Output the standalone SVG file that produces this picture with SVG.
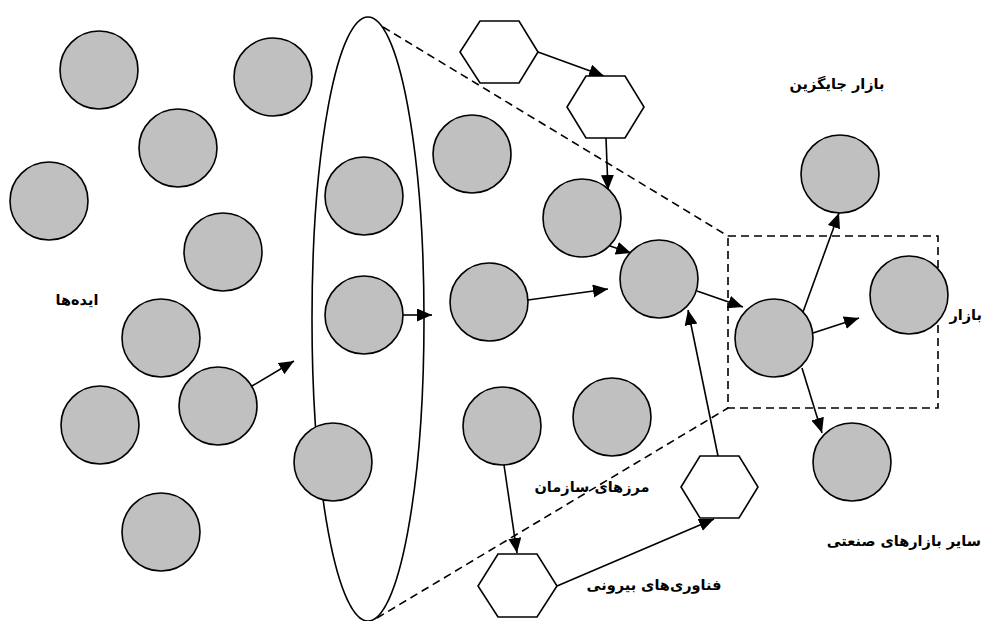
<svg xmlns="http://www.w3.org/2000/svg" width="983" height="621" viewBox="0 0 983 621">
<style>
.c{fill:#c0c0c0;stroke:#000;stroke-width:1.6}
.h{fill:#fff;stroke:#000;stroke-width:1.6}
.e{fill:none;stroke:#000;stroke-width:1.6}
.d{fill:none;stroke:#000;stroke-width:1.6;stroke-dasharray:8 5}
.a{stroke:#000;stroke-width:1.6;fill:none;marker-end:url(#ah)}
.t{font-family:"DejaVu Sans","Noto Sans",sans-serif;font-weight:bold;font-size:14.5px;fill:#000}
</style>
<defs>
<marker id="ah" markerUnits="userSpaceOnUse" markerWidth="16" markerHeight="14" refX="15" refY="6.5" orient="auto">
<path d="M0,0 L15,6.5 L0,13 z" fill="#000"/>
</marker>
</defs>
<rect width="983" height="621" fill="#fff"/>
<g id="boundary">
<ellipse class="e" cx="368" cy="319" rx="56" ry="302"/>
<line class="d" x1="383" y1="27" x2="728" y2="236"/>
<line class="d" x1="377" y1="618" x2="728" y2="408"/>
<rect class="d" x="728" y="236" width="210" height="172"/>
</g>
<g id="connectors">
<line class="a" x1="252" y1="386" x2="294" y2="361"/>
<line class="a" x1="403" y1="315" x2="432" y2="315"/>
<line class="a" x1="528" y1="300" x2="608" y2="289"/>
<line class="a" x1="538" y1="52" x2="604" y2="76"/>
<line class="a" x1="606" y1="138" x2="608" y2="190"/>
<line class="a" x1="610" y1="246" x2="631" y2="253"/>
<line class="a" x1="697" y1="291" x2="743" y2="307"/>
<line class="a" x1="718" y1="456" x2="688" y2="310"/>
<line class="a" x1="504" y1="465" x2="517" y2="553"/>
<line class="a" x1="557" y1="586" x2="714" y2="519"/>
<line class="a" x1="803" y1="312" x2="839" y2="213"/>
<line class="a" x1="813" y1="333" x2="859" y2="318"/>
<line class="a" x1="802" y1="368" x2="822" y2="433"/>
</g>
<g id="n1"><circle class="c" cx="99" cy="70" r="39"/></g>
<g id="n2"><circle class="c" cx="273" cy="77" r="39"/></g>
<g id="n3"><circle class="c" cx="178" cy="148" r="39"/></g>
<g id="n4"><circle class="c" cx="49" cy="201" r="39"/></g>
<g id="n5"><circle class="c" cx="223" cy="252" r="39"/></g>
<g id="n6"><circle class="c" cx="161" cy="338" r="39"/></g>
<g id="n7"><circle class="c" cx="218" cy="406" r="39"/></g>
<g id="n8"><circle class="c" cx="100" cy="425" r="39"/></g>
<g id="n9"><circle class="c" cx="161" cy="532" r="39"/></g>
<g id="n10"><circle class="c" cx="364" cy="196" r="39"/></g>
<g id="n11"><circle class="c" cx="364" cy="315" r="39"/></g>
<g id="n12"><circle class="c" cx="333" cy="462" r="39"/></g>
<g id="n13"><circle class="c" cx="472" cy="154" r="39"/></g>
<g id="n14"><circle class="c" cx="489" cy="302" r="39"/></g>
<g id="n15"><circle class="c" cx="582" cy="218" r="39"/></g>
<g id="n16"><circle class="c" cx="659" cy="279" r="39"/></g>
<g id="n17"><circle class="c" cx="502" cy="426" r="39"/></g>
<g id="n18"><circle class="c" cx="612" cy="417" r="39"/></g>
<g id="n19"><circle class="c" cx="774" cy="338" r="39"/></g>
<g id="n20"><circle class="c" cx="840" cy="174" r="39"/></g>
<g id="n21"><circle class="c" cx="909" cy="295" r="39"/></g>
<g id="n22"><circle class="c" cx="852" cy="462" r="39"/></g>
<g id="h1"><polygon class="h" points="480,21 519,21 538,52 519,83 480,83 460,52"/></g>
<g id="h2"><polygon class="h" points="586,76 625,76 644,107 625,138 586,138 567,107"/></g>
<g id="h3"><polygon class="h" points="700,456 739,456 758,487 739,518 700,518 681,487"/></g>
<g id="h4"><polygon class="h" points="498,554 537,554 557,586 537,617 498,617 478,586"/></g>
<g id="labels">
<text class="t" x="77" y="305" text-anchor="middle">ایده‌ها</text>
<text class="t" x="837" y="89" text-anchor="middle">بازار جایگزین</text>
<text class="t" x="982" y="320" text-anchor="end">بازار</text>
<text class="t" x="981" y="546" text-anchor="end">سایر بازارهای صنعتی</text>
<text class="t" x="654" y="590" text-anchor="middle">فناوری‌های بیرونی</text>
<text class="t" x="592" y="492" text-anchor="middle">مرزهای سازمان</text>
</g>
</svg>
